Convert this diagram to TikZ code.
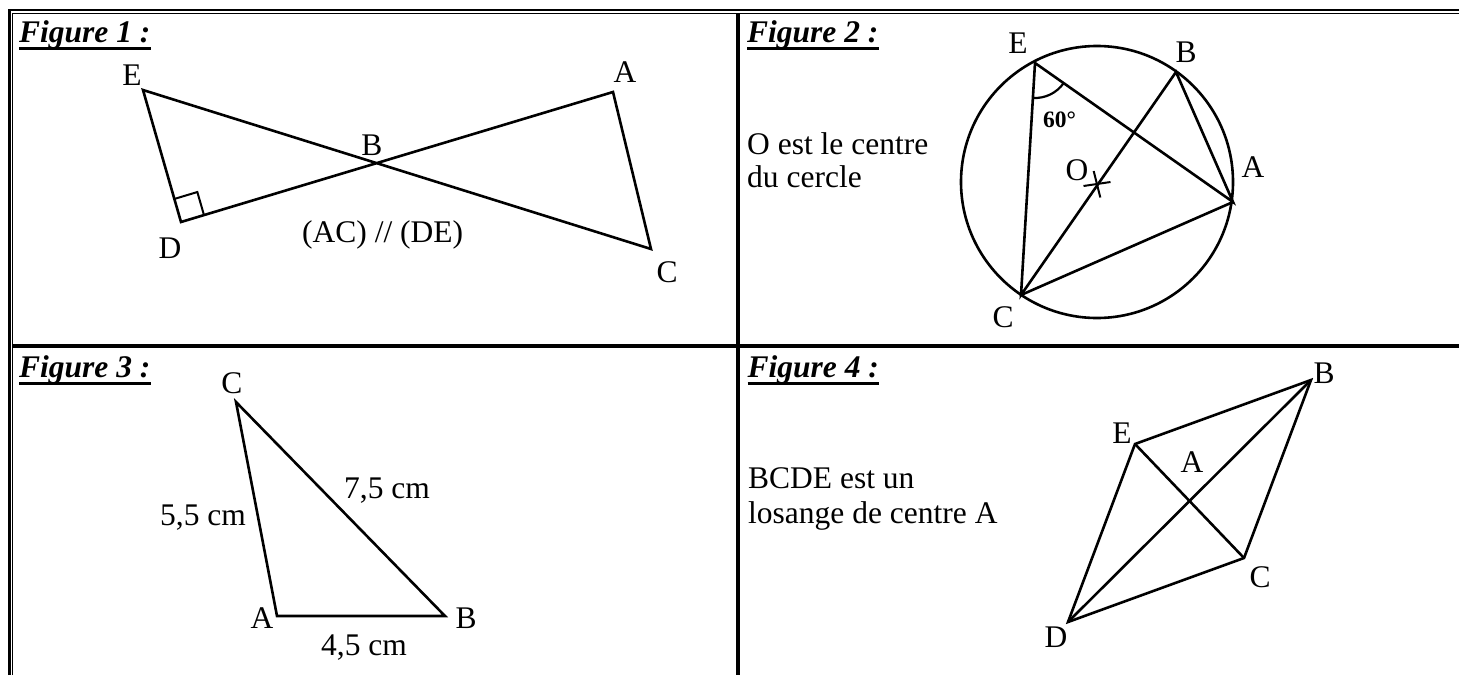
\documentclass[tikz,border=0pt]{standalone}
\usepackage{fontspec}
\setmainfont{Liberation Serif}
\usetikzlibrary{calc,angles}
\begin{document}
\begin{tikzpicture}[x=1pt,y=-1pt,
  lbl/.style={font=\fontsize{31.5}{33}\selectfont, inner sep=0pt, anchor=base},
  txt/.style={font=\fontsize{31.5}{33}\selectfont, inner sep=0pt, anchor=base west},
  ttl/.style={font=\fontsize{31.5}{33}\selectfont\bfseries\itshape, inner sep=0pt, anchor=base west},
  geo/.style={line width=2.6pt, line join=miter},
  thin/.style={line width=2pt},
  uline/.style={line width=3pt},
  rule/.style={line width=3.5pt}]
\useasboundingbox (0,0) rectangle (1459,675);

% ---- table frame ----
\coordinate (bo1) at (9.3,675); \coordinate (bo2) at (9.3,10.2); \coordinate (bo3) at (1459,10.2);
\coordinate (bi1) at (12.8,675); \coordinate (bi2) at (12.8,13.2); \coordinate (bi3) at (1459,13.2);
\draw[line width=2.4pt] (bo1) -- (bo2) -- (bo3);
\draw[line width=1.3pt] (bi1) -- (bi2) -- (bi3);
\coordinate (vt) at (738,13); \coordinate (vb) at (738,675);
\coordinate (hl) at (13,346); \coordinate (hr) at (1459,346);
\draw[rule] (vt) -- (vb);
\draw[rule] (hl) -- (hr);

% ---- titles ----
\node[ttl] (t1) at (19,42) {Figure 1 :};
\node[ttl] (t2) at (747,42) {Figure 2 :};
\node[ttl] (t3) at (19,377) {Figure 3 :};
\node[ttl] (t4) at (747.5,377) {Figure 4 :};
\foreach \t in {t1,t2,t3,t4}
  \draw[uline] ([yshift=-6pt]\t.base west) -- ([yshift=-6pt]\t.base east);

% ---- Figure 1 ----
\coordinate (E1) at (143,90);
\coordinate (A1) at (613,92);
\coordinate (D1) at (181,222);
\coordinate (C1) at (651,249);
\draw[geo] (E1) -- (D1) -- (A1) -- (C1) -- cycle;
\coordinate (q1) at ($(D1)!24pt!(E1)$);
\coordinate (q2) at ($(D1)!24pt!(A1)$);
\coordinate (q3) at ($(q1)+(q2)-(D1)$);
\draw[thin] (q1) -- (q3) -- (q2);
\node[lbl] (lE1) at (132,85) {E};
\node[lbl] (lA1) at (625,82) {A};
\node[lbl] (lB1) at (372,155) {B};
\node[lbl] (lD1) at (170,258) {D};
\node[lbl] (lC1) at (667,282) {C};
\node[txt] (par) at (302,242) {(AC) // (DE)};

% ---- Figure 2 ----
\coordinate (O2) at (1097,182);
\draw[geo] (O2) circle[radius=136pt];
\coordinate (E2) at (1035,63);
\coordinate (B2) at (1176,72);
\coordinate (A2) at (1233,202);
\coordinate (C2) at (1021,295);
\draw[geo] (E2) -- (C2) -- (B2) -- (A2) -- cycle;
\draw[geo] (C2) -- (A2);
\pic[draw, line width=2.2pt, angle radius=35pt] {angle=C2--E2--A2};
\coordinate (x1) at ($(O2)+(-13.5,4)$); \coordinate (x2) at ($(O2)+(13.5,0)$);
\coordinate (x3) at ($(O2)+(-3.3,-11)$); \coordinate (x4) at ($(O2)+(3.3,15.5)$);
\draw[thin] (x1) -- (x2);
\draw[thin] (x3) -- (x4);
\node[lbl] (lE2) at (1018,53) {E};
\node[lbl] (lB2) at (1186,62) {B};
\node[lbl] (lA2) at (1253,177) {A};
\node[lbl] (lO2) at (1077,180) {O};
\node[lbl] (lC2) at (1003,327) {C};
\node[font=\fontsize{23.5}{26}\selectfont\bfseries, inner sep=0pt, anchor=base west] (ang) at (1043,127) {60°};
\node[txt] (oc1) at (747,154) {O est le centre};
\node[txt] (oc2) at (747,187) {du cercle};

% ---- Figure 3 ----
\coordinate (C3) at (236,402);
\coordinate (A3) at (277,616);
\coordinate (B3) at (445,616);
\draw[geo] (C3) -- (A3) -- (B3) -- cycle;
\node[lbl] (lC3) at (232,393) {C};
\node[lbl] (lA3) at (262,628) {A};
\node[lbl] (lB3) at (466,628) {B};
\node[txt] (s1) at (160,525) {5,5 cm};
\node[txt] (s2) at (344,498) {7,5 cm};
\node[txt] (s3) at (321,655) {4,5 cm};

% ---- Figure 4 ----
\coordinate (B4) at (1311,380);
\coordinate (E4) at (1135,444);
\coordinate (D4) at (1068,622);
\coordinate (C4) at (1244,558);
\draw[geo] (B4) -- (E4) -- (D4) -- (C4) -- cycle;
\draw[geo] (B4) -- (D4);
\draw[geo] (E4) -- (C4);
\node[lbl] (lB4) at (1324,383) {B};
\node[lbl] (lE4) at (1122,443) {E};
\node[lbl] (lA4) at (1192,472) {A};
\node[lbl] (lC4) at (1260,587) {C};
\node[lbl] (lD4) at (1056,647) {D};
\node[txt] (bc1) at (748,488) {BCDE est un};
\node[txt] (bc2) at (748,523) {losange de centre A};
\end{tikzpicture}
\end{document}
